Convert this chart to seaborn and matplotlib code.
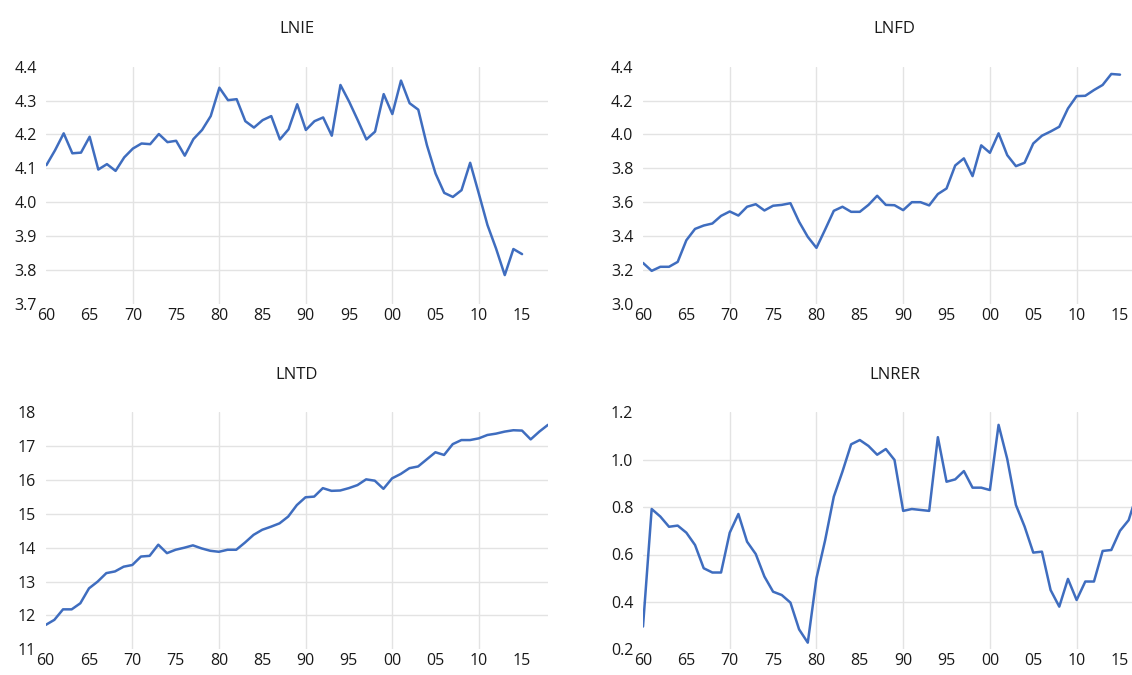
import numpy as np
import pandas as pd
import matplotlib
matplotlib.use("Agg")
import matplotlib.pyplot as plt
import seaborn as sns

# Annual series, 1960 onwards
years_ie = list(range(1960, 2016))
lnie = [4.109, 4.153, 4.203, 4.144, 4.146, 4.193, 4.096, 4.112, 4.092, 4.132,
        4.158, 4.173, 4.171, 4.201, 4.177, 4.181, 4.137, 4.186, 4.213, 4.254,
        4.338, 4.301, 4.304, 4.239, 4.220, 4.242, 4.254, 4.185, 4.215, 4.289,
        4.213, 4.239, 4.250, 4.196, 4.346, 4.297, 4.242, 4.185, 4.208, 4.319,
        4.260, 4.359, 4.292, 4.273, 4.168, 4.084, 4.027, 4.015, 4.035, 4.116,
        4.025, 3.932, 3.862, 3.784, 3.861, 3.846]

years_fd = list(range(1960, 2016))
lnfd = [3.240, 3.193, 3.217, 3.217, 3.246, 3.374, 3.441, 3.461, 3.473, 3.518,
        3.544, 3.520, 3.572, 3.587, 3.550, 3.578, 3.583, 3.593, 3.483, 3.394,
        3.329, 3.437, 3.548, 3.572, 3.542, 3.542, 3.583, 3.637, 3.583, 3.581,
        3.552, 3.599, 3.599, 3.580, 3.647, 3.680, 3.816, 3.858, 3.753, 3.935,
        3.891, 4.006, 3.877, 3.812, 3.832, 3.946, 3.992, 4.017, 4.045, 4.153,
        4.226, 4.228, 4.262, 4.292, 4.357, 4.353]

years_td = list(range(1960, 2019))
lntd = [11.72, 11.87, 12.18, 12.18, 12.36, 12.80, 13.00, 13.25, 13.30, 13.44,
        13.49, 13.74, 13.76, 14.09, 13.84, 13.94, 14.00, 14.07, 13.98, 13.91,
        13.88, 13.94, 13.94, 14.15, 14.38, 14.53, 14.62, 14.72, 14.92, 15.26,
        15.49, 15.51, 15.76, 15.68, 15.69, 15.76, 15.85, 16.02, 15.98, 15.74,
        16.05, 16.18, 16.35, 16.40, 16.61, 16.82, 16.74, 17.06, 17.18, 17.18,
        17.23, 17.33, 17.37, 17.43, 17.47, 17.46, 17.20, 17.43, 17.63]

years_rer = list(range(1960, 2018))
lnrer = [0.296, 0.792, 0.760, 0.717, 0.722, 0.692, 0.640, 0.542, 0.524, 0.524,
         0.692, 0.771, 0.654, 0.602, 0.507, 0.443, 0.429, 0.397, 0.284, 0.228,
         0.500, 0.660, 0.844, 0.950, 1.065, 1.083, 1.058, 1.021, 1.045, 0.999,
         0.784, 0.792, 0.788, 0.784, 1.095, 0.907, 0.917, 0.952, 0.882, 0.882,
         0.872, 1.147, 1.003, 0.809, 0.718, 0.608, 0.612, 0.450, 0.380, 0.497,
         0.408, 0.486, 0.486, 0.615, 0.619, 0.700, 0.745, 0.860]

titles = ["LNIE", "LNFD", "LNTD", "LNRER"]
y_ticks = [
    [3.7, 3.8, 3.9, 4.0, 4.1, 4.2, 4.3, 4.4],
    [3.0, 3.2, 3.4, 3.6, 3.8, 4.0, 4.2, 4.4],
    [11, 12, 13, 14, 15, 16, 17, 18],
    [0.2, 0.4, 0.6, 0.8, 1.0, 1.2],
]
y_fmt = ["{:.1f}", "{:.1f}", "{:.0f}", "{:.1f}"]
x_ticks = list(range(1960, 2016, 5))
x_labels = [f"{y % 100:02d}" for y in x_ticks]

frames = [
    pd.DataFrame({"year": years_ie, "value": lnie}),
    pd.DataFrame({"year": years_fd, "value": lnfd}),
    pd.DataFrame({"year": years_td, "value": lntd}),
    pd.DataFrame({"year": years_rer, "value": lnrer}),
]

sns.set_theme(style="white")
plt.rcParams["font.family"] = ["Open Sans", "DejaVu Sans"]

W, H = 1132, 675
fig = plt.figure(figsize=(W / 100, H / 100), dpi=100)

# axes boxes in pixels: left, top, width, height
boxes = [
    (46.4, 66.7, 501.6, 236.8),
    (643.0, 66.7, 503.0, 236.8),
    (45.7, 412.3, 502.3, 237.0),
    (643.0, 412.3, 503.0, 237.0),
]

line_color = "#3F6DBF"
grid_color = "#e3e3e3"
text_color = "#1a1a1a"

for i, (df, title, yt, fmt, box) in enumerate(zip(frames, titles, y_ticks, y_fmt, boxes)):
    l, t, w, h = box
    ax = fig.add_axes([l / W, 1 - (t + h) / H, w / W, h / H])
    ax.set_xlim(1960, 2018)
    ax.set_ylim(yt[0], yt[-1])

    # interior gridlines only
    for yv in yt[1:-1]:
        ax.axhline(yv, color=grid_color, lw=1.0, zorder=0)
    for xv in range(1970, 2018, 10):
        ax.axvline(xv, color=grid_color, lw=1.0, zorder=0)

    sns.lineplot(data=df, x="year", y="value", ax=ax, color=line_color,
                 linewidth=1.8, zorder=3)

    ax.set_xticks(x_ticks)
    ax.set_xticklabels(x_labels)
    ax.set_yticks(yt)
    ax.set_yticklabels([fmt.format(v) for v in yt])
    ax.tick_params(axis="both", length=0, labelsize=11.5, colors=text_color)
    ax.tick_params(axis="y", pad=7)
    ax.tick_params(axis="x", pad=3)
    ax.set_xlabel("")
    ax.set_ylabel("")
    for s in ax.spines.values():
        s.set_visible(False)
    ax.set_title(title, fontsize=12, color=text_color, pad=24)

fig.savefig("out.png", dpi=100)
